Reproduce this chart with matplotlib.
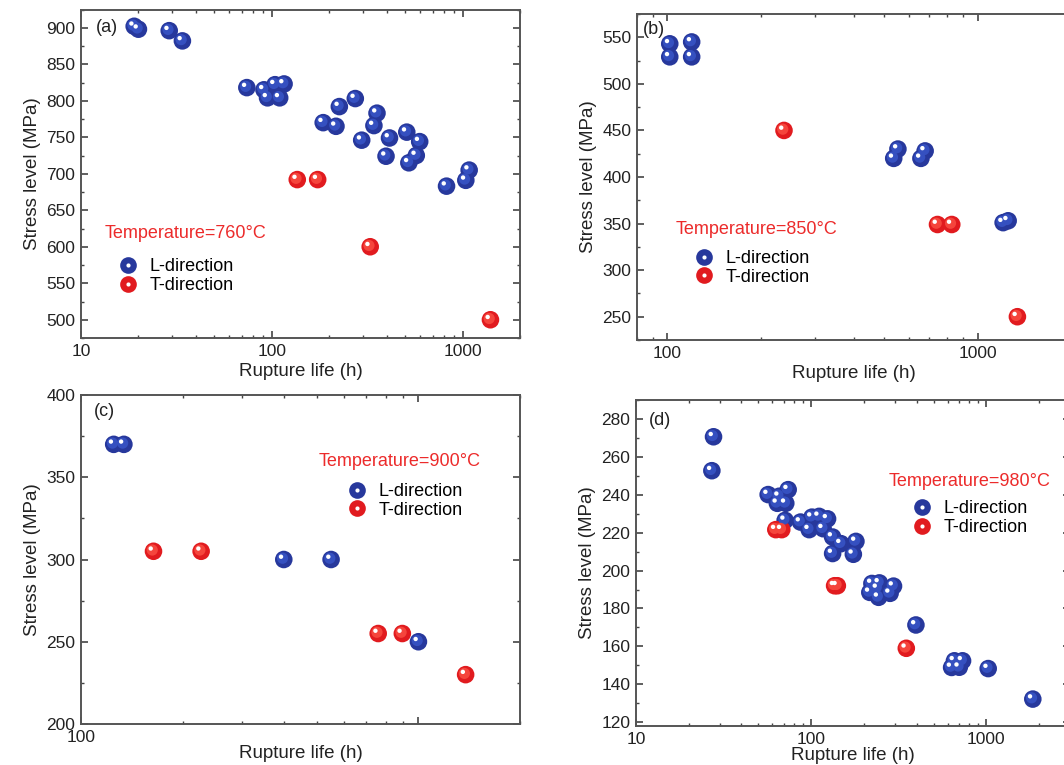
import matplotlib
matplotlib.use("Agg")
import matplotlib.pyplot as plt
from matplotlib.transforms import offset_copy
from matplotlib.lines import Line2D
from matplotlib.legend_handler import HandlerTuple
from matplotlib.ticker import MultipleLocator, LogLocator, NullFormatter, FuncFormatter

plt.rcParams['font.family'] = ['Liberation Sans', 'DejaVu Sans']

# --- rupture data (life in h, stress in MPa) ---
a_L_life = [19, 20, 29, 34, 74, 91, 95, 104, 116, 110, 186, 217, 226, 274, 296,
            356, 343, 414, 397, 510, 596, 572, 523, 824, 1040, 1083]
a_L_stress = [902, 898, 896, 882, 818, 815, 804, 822, 823, 804, 770, 765, 792, 803, 746,
              783, 766, 749, 724, 757, 744, 725, 715, 683, 691, 705]
a_T_life = [136, 174, 328, 1400]
a_T_stress = [692, 692, 600, 500]

b_L_life = [102, 102, 120, 120, 554, 537, 678, 657, 1209, 1255]
b_L_stress = [543, 529, 545, 529, 430, 420, 428, 420, 351, 353]
b_T_life = [238, 743, 826, 1344]
b_T_stress = [450, 349, 349, 250]

c_L_life = [125, 134, 399, 551, 1000]
c_L_stress = [370, 370, 300, 300, 250]
c_T_life = [164, 227, 760, 896, 1380]
c_T_stress = [305, 305, 255, 255, 230]

d_L_life = [27.7, 27.1, 56.8, 65.6, 73.9, 64.1, 71.6, 71, 86.9, 97.4, 101, 111, 124, 117,
            132.5, 148, 132.5, 180, 174, 222, 245, 216, 239, 242.5, 295, 282, 396,
            633, 700, 657, 731, 1024, 1840]
d_L_stress = [270.6, 252.7, 240.1, 239.2, 242.7, 235.5, 235.5, 226.5, 225.6, 221.6, 228.2,
              228.6, 227.3, 222.1, 217.7, 214.2, 209, 215.4, 208.6, 193.2, 193.5, 188.5,
              190.6, 185.9, 191.8, 188, 171.3, 148.9, 149, 152.4, 152.4, 148.3, 132.2]
d_T_life = [62.8, 67.9, 136, 141, 349]
d_T_stress = [221.6, 221.6, 192, 192, 159]

temps = ["760", "850", "900", "980"]
tags = ["(a)", "(b)", "(c)", "(d)"]

BLUE, BLUE_MID = "#27389c", "#3550c0"
RED, RED_MID = "#e11b1f", "#f5453c"
TXT_RED = "#ec2b2b"

W, H = 1064, 765
fig = plt.figure(figsize=(W / 100, H / 100), dpi=100)

# axes boxes in pixels: x0, y0(top), x1, y1(bottom)
boxes = [(81, 9.5, 520, 338), (637, 14, 1071, 340), (81, 395, 520, 724), (636, 400, 1070, 726)]
xlims = [(10, 2000), (80, 2000), (100, 2000), (10, 3000)]
ylims = [(475, 925), (225, 575), (200, 400), (118, 290)]
ysteps = [(50, 25), (50, 25), (50, 25), (20, 10)]
# (tag x, tag y, temp x, temp y, legend marker x, legend row y top, row y bottom)
texts = [(107, 27, 105, 233, 128, 267, 285.5),
         (654, 30, 676, 230, 704, 259, 276.5),
         (104, 412, 319, 461, 357, 491.5, 510),
         (660, 420, 889, 482, 922, 509.4, 527)]
series = [(a_L_life, a_L_stress, a_T_life, a_T_stress),
          (b_L_life, b_L_stress, b_T_life, b_T_stress),
          (c_L_life, c_L_stress, c_T_life, c_T_stress),
          (d_L_life, d_L_stress, d_T_life, d_T_stress)]

FS = 12.5
FS_NOTE = 13


def balls(ax, x, y, base, mid):
    ax.scatter(x, y, s=160, c=base, edgecolors='none', zorder=3)
    t1 = offset_copy(ax.transData, fig=fig, x=-0.9, y=0.9, units='points')
    ax.scatter(x, y, s=65, c=mid, edgecolors='none', transform=t1, zorder=4)
    t2 = offset_copy(ax.transData, fig=fig, x=-2.0, y=2.0, units='points')
    ax.scatter(x, y, s=10, c='white', edgecolors='none', transform=t2, zorder=5)


def fx(px):
    return px / W


def fy(py):
    return 1 - py / H


for i in range(4):
    x0, y0, x1, y1 = boxes[i]
    ax = fig.add_axes([fx(x0), fy(y1), (x1 - x0) / W, (y1 - y0) / H])
    Ll, Ls, Tl, Ts = series[i]
    balls(ax, Ll, Ls, BLUE, BLUE_MID)
    balls(ax, Tl, Ts, RED, RED_MID)

    ax.set_xscale('log')
    ax.set_xlim(*xlims[i])
    ax.set_ylim(*ylims[i])
    ax.xaxis.set_major_locator(LogLocator(base=10))
    ax.xaxis.set_minor_locator(LogLocator(base=10, subs=range(2, 10)))
    ax.xaxis.set_minor_formatter(NullFormatter())
    if i == 2:
        ax.xaxis.set_major_formatter(FuncFormatter(lambda v, p: f"{v:g}" if v < 500 else ""))
    else:
        ax.xaxis.set_major_formatter(FuncFormatter(lambda v, p: f"{v:g}"))
    ax.yaxis.set_major_locator(MultipleLocator(ysteps[i][0]))
    ax.yaxis.set_minor_locator(MultipleLocator(ysteps[i][1]))

    ax.tick_params(which='both', direction='in', top=True, right=True,
                   colors='#444444', labelcolor='#222222', labelsize=FS)
    ax.tick_params(which='major', length=5, width=1.2, pad=4)
    ax.tick_params(which='minor', length=2.5, width=1.0)
    for sp in ax.spines.values():
        sp.set_color('#555555')
        sp.set_linewidth(1.4)

    ax.set_xlabel("Rupture life (h)", fontsize=13.5, color='#222222',
                  labelpad=3 if i < 2 else 0)
    ax.set_ylabel("Stress level (MPa)", fontsize=13.5, color='#222222', labelpad=4)

    tx, ty, px, py, mx, r1, r2 = texts[i]
    fig.text(fx(tx), fy(ty), tags[i], fontsize=FS_NOTE, color='#222222', ha='center', va='center')
    fig.text(fx(px), fy(py), f"Temperature={temps[i]}°C", fontsize=FS_NOTE, color=TXT_RED,
             ha='left', va='center')

    hb = (Line2D([], [], ls='none', marker='o', ms=12, mfc=BLUE, mec='none'),
          Line2D([], [], ls='none', marker='o', ms=3, mfc='white', mec='none'))
    hr = (Line2D([], [], ls='none', marker='o', ms=12, mfc=RED, mec='none'),
          Line2D([], [], ls='none', marker='o', ms=3, mfc='white', mec='none'))
    fs_px = FS_NOTE * 100 / 72
    ax.legend([hb, hr], ["L-direction", "T-direction"],
              handler_map={tuple: HandlerTuple(ndivide=1)},
              loc='center left', bbox_to_anchor=(fx(mx - 0.5 * fs_px), fy((r1 + r2) / 2)),
              bbox_transform=fig.transFigure, frameon=False, fontsize=FS_NOTE,
              handlelength=1.0, handletextpad=0.7, labelspacing=0.1,
              borderpad=0, borderaxespad=0)

fig.savefig("out.png", dpi=100)
